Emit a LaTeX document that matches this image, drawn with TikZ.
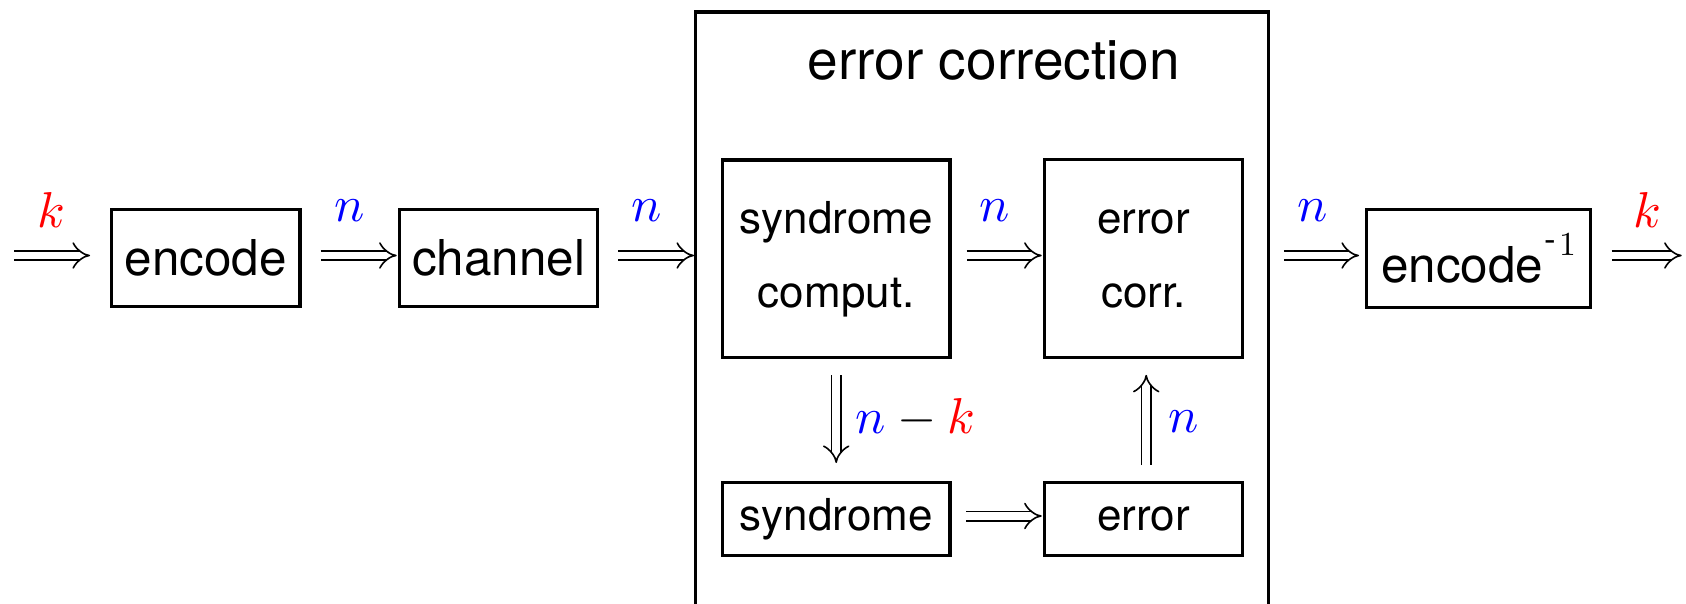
\documentclass[tikz,border=0pt]{standalone}
\usepackage{amsmath}
\usepackage[no-math]{fontspec}
\setmainfont{TeX Gyre Heros}
% Computer Modern math at its 10pt design, scaled to any size
\DeclareFontShape{OML}{cmm}{m}{it}{<->cmmi10}{}
\DeclareFontShape{OMS}{cmsy}{m}{n}{<->cmsy10}{}
\DeclareFontShape{OT1}{cmr}{m}{n}{<->cmr10}{}
\usetikzlibrary{arrows.meta}

\tikzset{
  box/.style={draw, line width=1.65pt, inner sep=2pt, align=center,
    font=\fontsize{22}{37}\selectfont},
  bigtext/.style={font=\fontsize{24.7}{28}\selectfont},
  lbl/.style={inner sep=0pt, font=\fontsize{25.2}{28}\selectfont},
  dbl/.style={double, double distance=3.9pt, line width=0.8pt,
    -{Implies[length=7.5pt,width=12pt]}},
}

\begin{document}
\begin{tikzpicture}[x=0.5pt,y=-0.5pt]
\path[use as bounding box, clip] (0,0) rectangle (1686,604);

% main chain
\node[box, bigtext, minimum width=94.2pt, minimum height=48.35pt] (enc) at (205.85,258) {encode};
\node[box, bigtext, minimum width=98.85pt, minimum height=48.35pt] (chan) at (498.5,258) {channel};

% error correction block (runs off the lower edge)
\node[draw, line width=1.65pt, inner sep=0pt, minimum width=286.3pt,
      minimum height=320pt, anchor=north] (ec) at (982,10.35) {};
\node[anchor=base, inner sep=0pt, font=\fontsize{27.5}{30}\selectfont] (title) at (993.8,80) {error correction};

\node[box, minimum width=113.85pt, minimum height=98.85pt] (sc) at (836.2,258.8) {syndrome\\comput.};
\node[box, minimum width=98.85pt, minimum height=98.85pt] (corr) at (1143.5,258.6) {error\\corr.};
\node[box, minimum width=113.85pt, minimum height=36.65pt] (syn) at (836.2,519) {syndrome};
\node[box, minimum width=98.85pt, minimum height=36.65pt] (err) at (1143.5,519) {error};

\node[box, bigtext, minimum width=111.85pt, minimum height=48.85pt,
      text height=24.5pt, text depth=0pt] (dec) at (1478.5,258.5)
  {encode\kern0.7pt\raisebox{15.7pt}{\fontsize{17.4}{18}\selectfont-}\kern1.5pt\raisebox{13.65pt}{\fontsize{16.8}{18}\selectfont$1$}};

% free ends
\coordinate (in) at (14,255.5);
\coordinate (out) at (1681.7,255.5);

% connectors
\draw[dbl, shorten >=10pt] (in) -- (in -| enc.west);
\draw[dbl, shorten <=9.5pt, shorten >=0.65pt] (enc.east |- in) -- (chan.west |- in);
\draw[dbl, shorten <=9.5pt] (chan.east |- in) -- (ec.west |- in);
\draw[dbl, shorten <=7.5pt, shorten >=0.65pt] (sc.east |- in) -- (corr.west |- in);
\draw[dbl, shorten <=7pt, shorten >=3pt] (ec.east |- in) -- (dec.west |- in);
\draw[dbl, shorten <=9.85pt] (dec.east |- in) -- (out);
\draw[dbl, shorten <=7.85pt, shorten >=8.85pt] (sc.south) -- (syn.north);
\draw[dbl, shorten <=7.85pt, shorten >=7.85pt] ([xshift=1.35pt]err.north) -- ([xshift=1.35pt]corr.south);
\draw[dbl, shorten <=7.15pt, shorten >=0.65pt] ([yshift=1.5pt]syn.east) -- ([yshift=1.5pt]err.west);

% labels
\node[lbl, text=red] (k1) at (51.7,210.5) {$k$};
\node[lbl, text=blue] (n1) at (350,210.5) {$n$};
\node[lbl, text=blue] (n2) at (646.7,210.5) {$n$};
\node[lbl, text=blue] (n3) at (994.2,210.5) {$n$};
\node[lbl, text=blue] (n4) at (1312.7,210.5) {$n$};
\node[lbl, text=red] (k2) at (1647.5,210.5) {$k$};
\node[lbl] (nk) at (915.8,418.3) {${\color{blue}n}-{\color{red}k}$};
\node[lbl, text=blue] (n5) at (1184,422) {$n$};
\end{tikzpicture}
\end{document}
